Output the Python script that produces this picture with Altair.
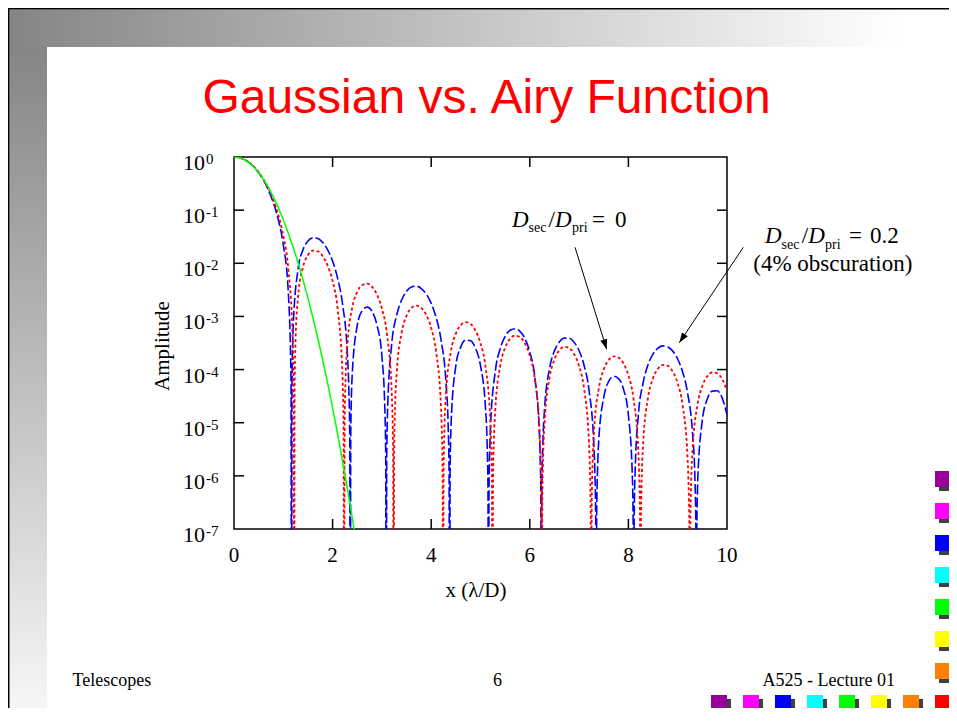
import altair as alt
import pandas as pd

# ---------------- values ----------------
# Gaussian (green, solid)
gauss_points = [
    (0.0, 1.0), (0.1, 0.973), (0.2, 0.897), (0.3, 0.783), (0.4, 0.647), (0.5, 0.507),
    (0.6, 0.376), (0.7, 0.264), (0.8, 0.1757), (0.9, 0.1107), (1.0, 0.0661), (1.1, 0.0373),
    (1.2, 0.0200), (1.3, 0.01013), (1.4, 0.00487), (1.5, 0.00221), (1.6, 9.53e-4),
    (1.7, 3.89e-4), (1.8, 1.50e-4), (1.9, 5.50e-5), (2.0, 1.91e-5), (2.1, 6.25e-6),
    (2.2, 1.94e-6), (2.3, 5.72e-7), (2.4, 1.60e-7), (2.5, 4.2e-8),
]

# Airy, Dsec/Dpri = 0 (red, dotted)
airy_points = [
    (0.0, 1.0), (0.1, 0.97558), (0.2, 0.90528), (0.3, 0.79745), (0.4, 0.66452), (0.5, 0.52085),
    (0.6, 0.38064), (0.7, 0.25577), (0.8, 0.15440), (0.9, 0.080268), (1.0, 0.032831), (1.1, 0.00812),
    (1.1897, 3.925e-4), (1.2, 1.737e-4), (1.2097, 4.361e-5), (1.2197, 1e-12), (1.2297, 4.361e-5), (1.2497, 3.925e-4),
    (1.3, 0.002325), (1.4, 0.008512), (1.5, 0.014283), (1.6, 0.017271), (1.7, 0.016809), (1.8, 0.013561),
    (1.9, 0.009027), (2.0, 0.004634), (2.1, 0.0014467), (2.2, 8.183e-5),
    (2.2031, 6.501e-5), (2.2231, 7.223e-6), (2.2331, 1e-12), (2.2431, 7.223e-6), (2.2631, 6.501e-5),
    (2.3, 2.923e-4), (2.4, 0.0014847), (2.5, 0.0028961), (2.6, 0.003899), (2.7, 0.004141), (2.8, 0.0036114),
    (2.9, 0.0025696), (3.0, 0.0014053), (3.1, 4.854e-4), (3.2, 3.594e-5),
    (3.2083, 2.140e-5), (3.2283, 2.378e-6), (3.2383, 1e-12), (3.2483, 2.378e-6), (3.2683, 2.140e-5),
    (3.3, 8.457e-5), (3.4, 4.9426e-4), (3.5, 0.0010284), (3.6, 0.001451), (3.7, 0.0016006), (3.8, 0.001448),
    (3.9, 0.0010668), (4.0, 6.0506e-4), (4.1, 2.1747e-4), (4.2, 1.8276e-5),
    (4.2111, 9.544e-6), (4.2311, 1.0605e-6), (4.2411, 1e-12), (4.2511, 1.0605e-6), (4.2711, 9.544e-6),
    (4.3, 3.4845e-5), (4.4, 2.2127e-4), (4.5, 4.7572e-4), (4.6, 6.8775e-4), (4.7, 7.7802e-4), (4.8, 7.1947e-4),
    (4.9, 5.4107e-4), (5.0, 3.1322e-4), (5.1, 1.1614e-4), (5.2, 1.0452e-5),
    (5.2128, 5.057e-6), (5.2328, 5.619e-7), (5.2428, 1e-12), (5.2528, 5.619e-7), (5.2728, 5.057e-6),
    (5.3, 1.7615e-5), (5.4, 1.1738e-4), (5.5, 2.585e-4), (5.6, 3.8087e-4), (5.7, 4.3581e-4), (5.8, 4.0852e-4),
    (5.9, 3.1287e-4), (6.0, 1.8271e-4), (6.1, 6.867e-5), (6.2, 6.508e-6),
    (6.2139, 2.994e-6), (6.2339, 3.327e-7), (6.2439, 1e-12), (6.2539, 3.327e-7), (6.2739, 2.994e-6),
    (6.3, 1.0049e-5), (6.4, 6.9489e-5), (6.5, 1.5528e-4), (6.6, 2.3077e-4), (6.7, 2.6804e-4), (6.8, 2.5351e-4),
    (6.9, 1.9505e-4), (7.0, 1.1573e-4), (7.1, 4.4196e-5), (7.2, 4.314e-6),
    (7.2148, 1.917e-6), (7.2348, 2.130e-7), (7.2448, 1e-12), (7.2548, 2.130e-7), (7.2748, 1.917e-6),
    (7.3, 6.29e-6), (7.4, 4.4556e-5), (7.5, 1.0074e-4), (7.6, 1.5139e-4), (7.7, 1.7644e-4), (7.8, 1.6817e-4),
    (7.9, 1.3097e-4), (8.0, 7.7863e-5), (8.1, 2.9899e-5), (8.2, 3.003e-6),
    (8.2154, 1.300e-6), (8.2354, 1.445e-7), (8.2454, 1e-12), (8.2554, 1.445e-7), (8.2754, 1.300e-6),
    (8.3, 4.174e-6), (8.4, 3.0206e-5), (8.5, 6.8824e-5), (8.6, 1.0384e-4), (8.7, 1.2226e-4), (8.8, 1.1712e-4),
    (8.9, 9.126e-5), (9.0, 5.4864e-5), (9.1, 2.1298e-5), (9.2, 2.1727e-6),
    (9.2159, 9.22e-7), (9.2359, 1.025e-7), (9.2459, 1e-12), (9.2559, 1.025e-7), (9.2759, 9.22e-7),
    (9.3, 2.9207e-6), (9.4, 2.1455e-5), (9.5, 4.9224e-5), (9.6, 7.4857e-5), (9.7, 8.8153e-5), (9.8, 8.4879e-5),
    (9.9, 6.6765e-5), (10.0, 4.0082e-5),
]

# Airy, Dsec/Dpri = 0.2 (blue, long dashes)
obsc_points = [
    (0.0, 1.0), (0.1, 0.97460), (0.2, 0.90159), (0.3, 0.78984), (0.4, 0.65256), (0.5, 0.50498),
    (0.6, 0.36209), (0.7, 0.23635), (0.8, 0.13613), (0.9, 0.06509), (1.0, 0.02224), (1.1, 0.00299),
    (1.1366, 4.928e-4), (1.15, 1.511e-4), (1.1566, 5.476e-5), (1.1666, 1e-12), (1.1766, 5.476e-5), (1.1966, 4.928e-4),
    (1.2, 6.27e-4), (1.3, 0.007817), (1.4, 0.018001), (1.5, 0.026146), (1.6, 0.030087), (1.7, 0.029229),
    (1.8, 0.024512), (1.9, 0.017844), (2.0, 0.010998), (2.1, 0.0053007), (2.2, 0.0017498), (2.3, 1.910e-4),
    (2.328, 4.802e-5), (2.348, 5.336e-6), (2.358, 1e-12), (2.368, 5.336e-6), (2.388, 4.802e-5),
    (2.4, 8.623e-5), (2.5, 6.753e-4), (2.6, 0.0012849), (2.7, 0.0014983), (2.8, 0.0012353), (2.9, 6.877e-4),
    (3.0, 1.7806e-4),
    (3.0579, 2.071e-5), (3.0779, 2.301e-6), (3.0879, 1e-12), (3.0979, 2.301e-6), (3.1, 3.35e-6), (3.1179, 2.071e-5),
    (3.2, 3.1005e-4), (3.3, 0.0010566), (3.4, 0.0020393), (3.5, 0.0029678), (3.6, 0.0035776), (3.7, 0.003705),
    (3.8, 0.0033514), (3.9, 0.0026353), (4.0, 0.0017636), (4.1, 9.499e-4), (4.2, 3.6096e-4), (4.3, 5.6e-5),
    (4.3429, 9.474e-6), (4.3629, 1.053e-6), (4.3729, 1e-12), (4.3829, 1.053e-6), (4.4, 7.706e-6), (4.4029, 9.474e-6),
    (4.5, 1.1913e-4), (4.6, 2.6777e-4), (4.7, 3.5918e-4), (4.8, 3.4927e-4), (4.9, 2.5056e-4), (5.0, 1.1849e-4),
    (5.1, 1.9673e-5),
    (5.1325, 4.537e-6), (5.1525, 5.04e-7), (5.1625, 1e-12), (5.1725, 5.04e-7), (5.1925, 4.537e-6),
    (5.2, 7.094e-6), (5.3, 9.302e-5), (5.4, 2.4961e-4), (5.5, 4.2033e-4), (5.6, 5.4957e-4), (5.7, 5.865e-4),
    (5.8, 5.2373e-4), (5.9, 3.8474e-4), (6.0, 2.1402e-4), (6.1, 7.517e-5), (6.2, 4.767e-6),
    (6.2037, 3.767e-6), (6.2237, 4.19e-7), (6.2337, 1e-12), (6.2437, 4.19e-7), (6.2637, 3.767e-6),
    (6.3, 1.8383e-5), (6.4, 1.0366e-4), (6.5, 2.247e-4), (6.6, 3.3124e-4), (6.7, 3.9192e-4), (6.8, 3.8793e-4),
    (6.9, 3.249e-4), (7.0, 2.265e-4), (7.1, 1.2091e-4), (7.2, 4.175e-5), (7.3, 3.658e-6),
    (7.3165, 1.52e-6), (7.3365, 1.69e-7), (7.3465, 1e-12), (7.3565, 1.69e-7), (7.3765, 1.52e-6),
    (7.4, 4.844e-6), (7.5, 2.9988e-5), (7.6, 5.9884e-5), (7.7, 7.4966e-5), (7.8, 6.7754e-5), (7.9, 4.2821e-5),
    (8.0, 1.3806e-5),
    (8.0764, 1.219e-6), (8.0964, 1.354e-7), (8.1, 5.5e-8), (8.1064, 1e-12), (8.1164, 1.354e-7), (8.1364, 1.219e-6),
    (8.2, 1.3262e-5), (8.3, 5.7145e-5), (8.4, 1.2414e-4), (8.5, 1.9723e-4), (8.6, 2.5301e-4), (8.7, 2.7889e-4),
    (8.8, 2.6716e-4), (8.9, 2.2243e-4), (9.0, 1.5795e-4), (9.1, 8.9874e-5), (9.2, 3.6363e-5), (9.3, 6.428e-6),
    (9.3487, 9.33e-7), (9.3687, 1.037e-7), (9.3787, 1e-12), (9.3887, 1.037e-7), (9.4, 4.727e-7), (9.4087, 9.33e-7),
    (9.5, 1.1223e-5), (9.6, 2.7858e-5), (9.7, 3.9323e-5), (9.8, 3.9835e-5), (9.9, 2.9713e-5), (10.0, 1.4125e-5),
]

x_tick_values = [0, 2, 4, 6, 8, 10]
y_tick_exponents = [0, -1, -2, -3, -4, -5, -6, -7]
square_colors = ["#990099", "#ff00ff", "#0000ff", "#00ffff", "#00ff00", "#ffff00", "#ff8000", "#ff0000"]

# ---------------- layout ----------------
W, H = 493, 372
SERIF = "Liberation Serif"
SANS = "Liberation Sans"
one = pd.DataFrame({"k": [0]})

xscale = alt.Scale(domain=[0, 10], nice=False, zero=False)
yscale = alt.Scale(type="log", domain=[1e-7, 1], nice=False)


def df_of(points):
    return pd.DataFrame(points, columns=["x", "y"])


def txt(s, x, y, size, style="normal", font=SERIF, align="left", color="black", angle=0):
    return alt.Chart(one).mark_text(
        text=s, font=font, fontSize=size, fontStyle=style, align=align,
        baseline="alphabetic", color=color, angle=angle
    ).encode(x=alt.value(x), y=alt.value(y))


def rect(x, x2, y, y2, fill):
    return alt.Chart(one).mark_rect(fill=fill, strokeWidth=0).encode(
        x=alt.value(x), x2=alt.value(x2), y=alt.value(y), y2=alt.value(y2)
    )


layers = []

# slide background
top_grad = alt.LinearGradient(
    gradient="linear", x1=0, x2=1, y1=0, y2=0,
    stops=[alt.GradientStop(color="#858585", offset=0),
           alt.GradientStop(color="#ffffff", offset=0.95),
           alt.GradientStop(color="#ffffff", offset=1)])
left_grad = alt.LinearGradient(
    gradient="linear", x1=0, x2=0, y1=0, y2=1,
    stops=[alt.GradientStop(color="#858585", offset=0),
           alt.GradientStop(color="#f6f6f6", offset=1)])
layers.append(rect(-224.5, 712, -147.5, -110, top_grad))
layers.append(rect(-224.5, -187, -110, 551, left_grad))
layers.append(rect(-226, 716, -149, -147.5, "black"))
layers.append(rect(-226, -224.5, -149, 551, "black"))

# colour squares
rows = []
for i, c in enumerate(square_colors):
    rows.append({"x0": 701, "y0": 314 + 32 * i, "c": c})
    rows.append({"x0": 477 + 32 * i, "y0": 538, "c": c})
sq = pd.DataFrame(rows)
sq["x1"] = sq["x0"] + 16
sq["y1"] = sq["y0"] + 16
sq["sx0"] = sq["x0"] + 4
sq["sy0"] = sq["y0"] + 4
sq["sx1"] = sq["x1"] + 4
sq["sy1"] = sq["y1"] + 4
layers.append(alt.Chart(sq).mark_rect(color="#404040").encode(
    x=alt.X("sx0:Q", scale=None, axis=None), x2="sx1:Q",
    y=alt.Y("sy0:Q", scale=None, axis=None), y2="sy1:Q"))
layers.append(alt.Chart(sq).mark_rect().encode(
    x=alt.X("x0:Q", scale=None, axis=None), x2="x1:Q",
    y=alt.Y("y0:Q", scale=None, axis=None), y2="y1:Q",
    color=alt.Color("c:N", scale=None)))

# inward ticks on all four sides
xt = pd.DataFrame({"x": [v for v in x_tick_values if 0 < v < 10]})
yt = pd.DataFrame({"y": [10.0 ** e for e in y_tick_exponents if -7 < e < 0]})
for ya, yb in [(H, H - 10), (0, 10)]:
    layers.append(alt.Chart(xt).mark_rule(color="black", strokeWidth=1.5).encode(
        x=alt.X("x:Q", scale=xscale, axis=None), y=alt.value(ya), y2=alt.value(yb)))
for xa, xb in [(0, 10), (W - 10, W)]:
    layers.append(alt.Chart(yt).mark_rule(color="black", strokeWidth=1.5).encode(
        y=alt.Y("y:Q", scale=yscale, axis=None), x=alt.value(xa), x2=alt.value(xb)))

# curves
layers.append(alt.Chart(df_of(obsc_points)).mark_line(
    color="#0000ff", strokeWidth=1.6, strokeDash=[10, 3], clip=True, interpolate="monotone"
).encode(x=alt.X("x:Q", scale=xscale, axis=None), y=alt.Y("y:Q", scale=yscale, axis=None)))
layers.append(alt.Chart(df_of(airy_points)).mark_line(
    color="#ff0000", strokeWidth=1.8, strokeDash=[3, 2.5], clip=True, interpolate="monotone"
).encode(x=alt.X("x:Q", scale=xscale, axis=None), y=alt.Y("y:Q", scale=yscale, axis=None)))
layers.append(alt.Chart(df_of(gauss_points)).mark_line(
    color="#00ff00", strokeWidth=1.5, clip=True, interpolate="monotone"
).encode(x=alt.X("x:Q", scale=xscale, axis=None), y=alt.Y("y:Q", scale=yscale, axis=None)))

# x tick labels
xl = pd.DataFrame({"x": x_tick_values, "t": [str(v) for v in x_tick_values]})
layers.append(alt.Chart(xl).mark_text(
    font=SERIF, fontSize=21, align="center", baseline="alphabetic", color="black"
).encode(x=alt.X("x:Q", scale=xscale, axis=None), y=alt.value(H + 33), text="t:N"))

# y tick labels 10^n
yl = pd.DataFrame({"v": [10.0 ** e for e in y_tick_exponents],
                   "e": [str(e) for e in y_tick_exponents]})
layers.append(alt.Chart(yl).mark_text(
    text="10", font=SERIF, fontSize=22, align="left", baseline="middle", dy=6, color="black"
).encode(x=alt.value(-51), y=alt.Y("v:Q", scale=yscale, axis=None)))
layers.append(alt.Chart(yl).mark_text(
    font=SERIF, fontSize=15, align="left", baseline="middle", dy=2, color="black"
).encode(x=alt.value(-28), y=alt.Y("v:Q", scale=yscale, axis=None), text="e:N"))

# axis titles
layers.append(txt("x (λ/D)", 242, 440, 21, align="center"))
layers.append(txt("Amplitude", -65, 189, 21, align="center", angle=270))

# arrows
path = "M0,0L0.35,1L-0.35,1Z"
for (x0, y0, x1, y1, ang) in [(341, 90.3, 372.7, 192.3, 162.7), (509.3, 90.3, 445.3, 185.7, 213.9)]:
    layers.append(alt.Chart(one).mark_rule(color="black", strokeWidth=1).encode(
        x=alt.value(x0), y=alt.value(y0), x2=alt.value(x1), y2=alt.value(y1)))
    layers.append(alt.Chart(one).mark_point(
        shape=path, filled=True, color="black", size=400, angle=ang, opacity=1, strokeWidth=0
    ).encode(x=alt.value(x1), y=alt.value(y1)))

# annotations
layers += [
    txt("D", 278, 70, 23, "italic"), txt("sec", 294.5, 75, 14), txt("/", 314.5, 70, 23),
    txt("D", 321, 70, 23, "italic"), txt("pri", 338, 75, 14), txt("=", 358, 70, 23),
    txt("0", 381, 70, 23),
    txt("D", 531, 86.3, 23, "italic"), txt("sec", 547.5, 91.5, 14), txt("/", 567.7, 86.3, 23),
    txt("D", 574.3, 86.3, 23, "italic"), txt("pri", 591, 91.5, 14), txt("=", 615, 86.3, 23),
    txt("0.2", 636, 86.3, 23),
    txt("(4% obscuration)", 519.3, 113.7, 23),
]

# slide title and footer
layers.append(txt("Gaussian vs. Airy Function", 252.5, -44, 48, font=SANS, align="center", color="#ff0000"))
layers.append(txt("Telescopes", -161.4, 529, 18))
layers.append(txt("6", 263.5, 529, 18, align="center"))
layers.append(txt("A525 - Lecture 01", 528.5, 529, 18))

chart = alt.layer(*layers).properties(
    width=W, height=H,
    autosize=alt.AutoSizeParams(type="none"),
    padding={"left": 226, "top": 149, "right": 222, "bottom": 179},
    background="white",
).configure_view(stroke="black", strokeWidth=1.5)

chart.save("out.html", embed_options={"renderer": "svg", "actions": False})
